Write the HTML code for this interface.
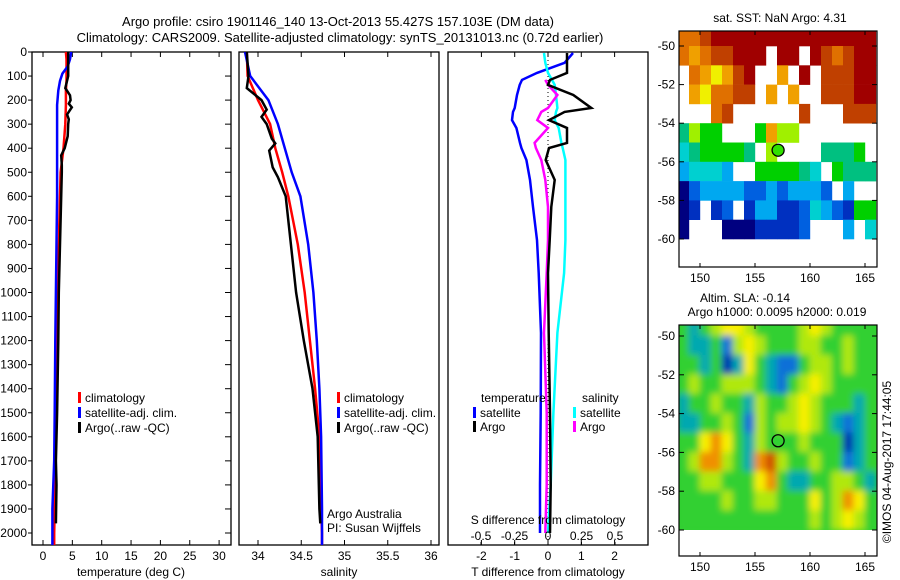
<!DOCTYPE html>
<html><head><meta charset="utf-8"><style>
html,body{margin:0;padding:0;background:#fff;width:900px;height:580px;overflow:hidden}
svg{display:block;font-family:"Liberation Sans",sans-serif;}
text{fill:#000;font-size:12px}
</style></head><body>
<svg id="chart" width="900" height="580" viewBox="0 0 900 580">
<defs>
<filter id="blur" x="-5%" y="-5%" width="110%" height="110%"><feGaussianBlur stdDeviation="3.5"/></filter>
<clipPath id="clip1"><rect x="679" y="31" width="198" height="236"/></clipPath>
<clipPath id="clip2"><rect x="679" y="325" width="198" height="205"/></clipPath>
<clipPath id="clipP1"><rect x="32" y="52" width="199" height="493"/></clipPath>
<clipPath id="clipP2"><rect x="239" y="52" width="200" height="493"/></clipPath>
<clipPath id="clipP3"><rect x="448" y="52" width="200" height="493"/></clipPath>
</defs>
<text x="338" y="26" text-anchor="middle" style="font-size:13px">Argo profile: csiro 1901146_140 13-Oct-2013 55.427S 157.103E (DM data)</text>
<text x="340" y="42" text-anchor="middle" style="font-size:13px">Climatology: CARS2009. Satellite-adjusted climatology: synTS_20131013.nc (0.72d earlier)</text>
<g id="g"></g>
</svg>
<script>
// ---------- data ----------
const tDepth=[0,30,60,90,120,160,220,300,400,500,600,800,1000,1200,1500,1700,1900,2000,2050];
const tClim=[3.9,4.0,4.0,4.0,4.0,3.9,3.9,3.8,3.5,3.0,2.9,2.7,2.5,2.4,2.2,2.1,2.0,1.9,1.9];
const tSat=[4.8,4.6,4.2,3.3,2.9,2.6,2.4,2.4,2.4,2.4,2.4,2.3,2.2,2.1,2.0,1.9,1.6,1.6,1.6];
const argoDepth=[0,100,150,180,200,215,230,245,260,280,300,350,400,430,470,500,600,800,1000,1200,1500,1700,1800,1960];
const tArgo=[4.3,4.3,3.8,4.6,4.7,4.4,4.9,4.5,4.1,4.4,4.3,4.2,3.7,3.1,3.2,3.2,3.1,2.9,2.7,2.6,2.4,2.2,2.3,2.2];
const sDepth=[0,100,200,300,400,500,600,800,1000,1200,1400,1600,1900,2000,2050];
const sClim=[33.87,33.88,34.0,34.14,34.2,34.28,34.35,34.46,34.54,34.6,34.66,34.71,34.73,34.74,34.74];
const sSat=[33.85,33.91,34.12,34.23,34.31,34.39,34.49,34.58,34.64,34.68,34.71,34.73,34.74,34.74,34.74];
const sArgoDepth=[0,100,150,200,240,270,300,360,380,410,480,520,600,800,1000,1200,1400,1600,1900,1960];
const sArgo=[33.87,33.89,33.87,34.04,34.1,34.04,34.1,34.16,34.2,34.13,34.17,34.23,34.32,34.38,34.44,34.53,34.63,34.69,34.71,34.72];
const dDepth=[4,45,87,116,137,179,233,249,283,316,378,399,449,532,644,782,919,1168,1500,1800,2000];
const dTSat=[0.75,0.5,-0.33,-0.78,-0.85,-0.93,-1.0,-1.05,-1.08,-0.95,-0.84,-0.8,-0.65,-0.54,-0.45,-0.33,-0.28,-0.21,-0.22,-0.24,-0.24];
const dTArgo=[0.57,0.57,0.57,0.06,0.0,0.76,1.3,0.5,0.03,0.57,0.57,0.03,-0.07,0.2,0.1,0.05,0.0,0.02,0.06,0.08,0.06];
const dSSat=[-0.03,-0.02,0.0,0.03,0.05,0.06,0.07,0.06,0.05,0.08,0.1,0.11,0.13,0.13,0.13,0.13,0.12,0.07,0.04,0.02,0.0];
const dSArgo=[null,null,null,-0.02,0.0,0.07,0.0,-0.05,-0.08,0.0,-0.1,-0.09,-0.05,-0.02,0.0,0.0,-0.01,-0.03,-0.01,-0.01,-0.02];
const depthTicks=[0,100,200,300,400,500,600,700,800,900,1000,1100,1200,1300,1400,1500,1600,1700,1800,1900,2000];
const tTicks=[0,5,10,15,20,25,30];
const sTicks=[34,34.5,35,35.5,36];
const sTickLabels=["34","34.5","35","35.5","36"];
const dTTicks=[-2,-1,0,1,2];
const dSTicks=[-0.5,-0.25,0,0.25,0.5];
const dSTickLabels=["-0.5","-0.25","0","0.25","0.5"];
const latTicks=[-50,-52,-54,-56,-58,-60];
const lonTicks=[150,155,160,165];
const sstGrid=[
[10,10,11,12,12,12,12,12,12,12,12,12,12,12,12,12,12,12],
[10,9,10,11,11,12,12,12,-1,12,12,-1,12,11,10,11,12,12],
[-1,10,9,8,9,11,12,-1,-1,9,-1,12,-1,11,11,11,12,12],
[-1,9,8,10,10,11,11,-1,9,-1,9,-1,-1,11,11,11,12,12],
[-1,-1,-1,10,11,-1,-1,-1,-1,-1,-1,11,-1,-1,-1,11,11,11],
[5,7,6,6,-1,-1,-1,6,9,7,7,-1,-1,-1,-1,-1,-1,-1],
[4,5,6,6,6,6,5,-1,7,-1,-1,-1,-1,5,5,5,6,-1],
[3,4,4,4,3,-1,-1,6,6,6,6,5,4,-1,6,5,5,5],
[0,2,3,3,3,3,2,2,3,2,3,3,3,2,-1,3,-1,-1],
[0,1,-1,1,2,-1,1,3,3,1,1,2,4,3,2,1,6,6],
[0,-1,-1,-1,0,0,0,1,1,1,1,2,-1,-1,-1,3,-1,4]];
const slaGrid=[
[0,-1,0,1,2,2,1,0,0,0,0,1,2,1,0,0,0,0],
[0,-1,-1,0,-2,1,2,1,0,0,0,1,1,0,0,1,0,0],
[0,0,-1,0,-3,-1,2,0,-1,-2,-2,0,1,1,0,1,0,0],
[0,1,0,0,1,1,1,0,-1,-2,0,1,2,1,0,0,0,0],
[-1,0,0,1,0,0,-1,1,0,0,1,2,1,0,0,0,-1,0],
[-1,-1,0,0,1,0,-2,1,0,1,1,2,1,0,-1,-2,-1,0],
[0,0,2,3,2,0,-1,1,0,0,0,1,0,0,0,-3,-1,0],
[0,1,3,3,1,0,-1,3,4,1,0,0,1,0,0,-2,-1,0],
[0,0,1,1,0,0,0,2,3,0,-1,-1,0,0,1,1,0,-1],
[0,0,0,0,1,0,0,1,1,0,0,0,2,0,1,3,2,0],
[0,0,0,0,0,0,0,0,0,0,0,0,1,0,1,2,1,0]];
const argoLon=157.1, argoLat=-55.4;

// ---------- helpers ----------
const NS="http://www.w3.org/2000/svg";
const G=document.getElementById('g');
function mk(tag,attrs,parent){const e=document.createElementNS(NS,tag);for(const k in attrs)e.setAttribute(k,attrs[k]);(parent||G).appendChild(e);return e;}
function txt(x,y,s,anchor,parent){const t=mk('text',{x:x,y:y,'text-anchor':anchor||'start'},parent);t.textContent=s;return t;}
const yD=d=>52+d*0.2405;
const xT=v=>43+v*5.87;
const xS=v=>258+(v-34)*86.5;
const xDT=v=>548+v*33.3;
const xDS=v=>548+v*134;

function line(xs,ys,xf,color,name,clip,w){
  let p='';let started=false;
  for(let i=0;i<xs.length;i++){if(xs[i]==null){started=false;continue;}
    p+=(started?'L':'M')+xf(xs[i]).toFixed(1)+' '+yD(ys[i]).toFixed(1);started=true;}
  const e=mk('path',{d:p,fill:'none',stroke:color,'stroke-width':w||2.5,'clip-path':'url(#'+clip+')'});
  
  
  return e;
}
function frame(x,w,name){
  const r=mk('rect',{x:x,y:52,width:w,height:493,fill:'none',stroke:'#000','stroke-width':1.3});
  
  
}
function legend(x,y,color,label){
  const gg=mk('g',{});
  
  
  mk('rect',{x:x,y:y-10,width:3,height:11,fill:color},gg);
  txt(x+7,y,label,'start',gg);
}

// ---------- panel 1 ----------
frame(32,199,'temperature-panel');
const ya=mk('g',{});


depthTicks.forEach(d=>{
  const y=yD(d);
  mk('line',{x1:28,x2:32,y1:y,y2:y,stroke:'#000'},ya);
  mk('line',{x1:225,x2:231,y1:y,y2:y,stroke:'#000'},ya);
  txt(27,y+4,String(d),'end',ya);
});
function xAxis(ticks,labels,xf,name){
  const ax=mk('g',{});
  
  
  ticks.forEach((v,i)=>{const x=xf(v);
    mk('line',{x1:x,x2:x,y1:545,y2:540,stroke:'#000'},ax);
    mk('line',{x1:x,x2:x,y1:52,y2:57,stroke:'#000'},ax);
    txt(x,560,labels[i],'middle',ax);});
}
xAxis(tTicks,tTicks.map(String),xT,'temperature-x-axis');
txt(131,576,'temperature (deg C)','middle');
line(tClim,tDepth,xT,'#f00','temperature-climatology-line','clipP1');
line(tSat,tDepth,xT,'#00f','temperature-satellite-line','clipP1');
line(tArgo,argoDepth,xT,'#000','temperature-argo-line','clipP1');
legend(78,402,'#f00','climatology');
legend(78,417,'#00f','satellite-adj. clim.');
legend(78,432,'#000','Argo(..raw -QC)');

// ---------- panel 2 ----------
frame(239,200,'salinity-panel');
xAxis(sTicks,sTickLabels,xS,'salinity-x-axis');
txt(339,576,'salinity','middle');
line(sClim,sDepth,xS,'#f00','salinity-climatology-line','clipP2');
line(sSat,sDepth,xS,'#00f','salinity-satellite-line','clipP2');
line(sArgo,sArgoDepth,xS,'#000','salinity-argo-line','clipP2');
legend(337,402,'#f00','climatology');
legend(337,417,'#00f','satellite-adj. clim.');
legend(337,432,'#000','Argo(..raw -QC)');
txt(327,518,'Argo Australia');
txt(327,532,'PI: Susan Wijffels');

// ---------- panel 3 ----------
frame(448,200,'difference-panel');
xAxis(dTTicks,dTTicks.map(String),xDT,'t-difference-x-axis');
txt(548,576,'T difference from climatology','middle');
mk('line',{x1:548,x2:548,y1:52,y2:545,stroke:'#000','stroke-dasharray':'1 3'});
line(dTSat,dDepth,xDT,'#00f','t-diff-satellite-line','clipP3');
line(dSSat,dDepth,xDS,'#0ff','s-diff-satellite-line','clipP3');
line(dSArgo,dDepth,xDS,'#f0f','s-diff-argo-line','clipP3');
line(dTArgo,dDepth,xDT,'#000','t-diff-argo-line','clipP3');
const sa=mk('g',{});


dSTicks.forEach((v,i)=>{const x=xDS(v);
  txt(x,540,dSTickLabels[i],'middle',sa);
  mk('line',{x1:x,x2:x,y1:545,y2:542,stroke:'#000'},sa);});
txt(548,524,'S difference from climatology','middle',sa);
txt(481,402,'temperature');
txt(582,402,'salinity');
legend(473,417,'#00f','satellite');
legend(473,431,'#000','Argo');
legend(573,417,'#0ff','satellite ');
legend(573,431,'#f0f','Argo ');

// ---------- maps ----------
const sstColors=['#000080','#0030c0','#0060e0','#00a8f0','#00d0d0','#00c080','#00d000','#a0f000','#f0f000','#f0a000','#e07000','#c04000','#a00000'];
const slaColor={'-3':'#0030b0','-2':'#1070d8','-1':'#00a8b0','0':'#30d030','1':'#b0e810','2':'#f8f000','3':'#f09000','4':'#d05000'};
function mapAxes(top,bottom,y50,pxLat,name){
  const mx=lon=>700+(lon-150)*11;
  const my=lat=>y50+(-50-lat)*pxLat;
  const ax=mk('g',{});
  
  
  mk('rect',{x:679,y:top,width:198,height:bottom-top,fill:'none',stroke:'#000','stroke-width':1.2},ax);
  latTicks.forEach(l=>{const y=my(l);
    mk('line',{x1:679,x2:684,y1:y,y2:y,stroke:'#000'},ax);
    mk('line',{x1:872,x2:877,y1:y,y2:y,stroke:'#000'},ax);
    txt(675,y+4,String(l),'end',ax);});
  lonTicks.forEach(l=>{const x=mx(l);
    mk('line',{x1:x,x2:x,y1:top,y2:top+4,stroke:'#000'},ax);
    mk('line',{x1:x,x2:x,y1:bottom,y2:bottom-4,stroke:'#000'},ax);
    txt(x,bottom+15,String(l),'middle',ax);});
}
const m1g=mk('g',{'clip-path':'url(#clip1)'});


const m1={mx:lon=>700+(lon-150)*11,my:lat=>46+(-50-lat)*19.3};
sstGrid.forEach((row,r)=>row.forEach((v,c)=>{
  if(v<0)return;
  const cell=mk('rect',{x:m1.mx(148+c),y:m1.my(-49-r),width:11.2,height:19.6,fill:sstColors[v]},m1g);
  
  
}));
mapAxes(31,267,46,19.3,'sst-map');
const c1=mk('circle',{cx:m1.mx(argoLon),cy:m1.my(argoLat),r:6,fill:'#30e000',stroke:'#000','stroke-width':1.3});


txt(780,22,'sat. SST: NaN Argo: 4.31','middle');

const m2={mx:lon=>700+(lon-150)*11,my:lat=>336+(-50-lat)*19.4};
const m2c=mk('g',{'clip-path':'url(#clip2)'});


mk('rect',{x:679,y:325,width:198,height:205,fill:'#30d030'},m2c);
const m2g=mk('g',{filter:'url(#blur)'},m2c);
slaGrid.forEach((row,r)=>row.forEach((v,c)=>{
  const cell=mk('rect',{x:m2.mx(148+c)-0.5,y:m2.my(-49-r)-0.5,width:12,height:20.4,fill:slaColor[String(v)]},m2g);
  
  
}));
mapAxes(325,556,336,19.4,'sla-map');
const c2=mk('circle',{cx:m2.mx(argoLon),cy:m2.my(argoLat),r:6,fill:'none',stroke:'#000','stroke-width':1.3});


txt(745,302,'Altim. SLA: -0.14','middle');
txt(777,316,'Argo h1000: 0.0095 h2000: 0.019','middle');
const cr=txt(0,0,'©IMOS 04-Aug-2017 17:44:05','middle');
cr.setAttribute('transform','translate(891,462) rotate(-90)');


</script>
</body></html>
